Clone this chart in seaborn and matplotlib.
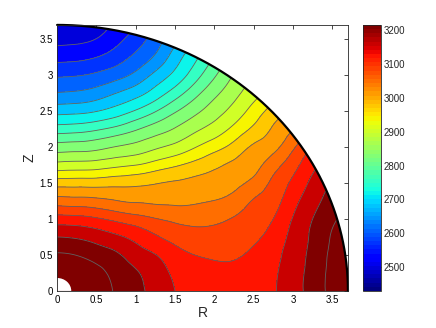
import numpy as np
import matplotlib
matplotlib.use("Agg")
import matplotlib.pyplot as plt
import matplotlib.tri as mtri
from matplotlib.colors import Normalize
from matplotlib.cm import ScalarMappable
from matplotlib.patches import Wedge
import seaborn as sns

# ==================== DATA ====================

# sample grid: R positions along each row, one row per Z value
grid_r = [0.0, 0.25, 0.5, 0.75, 1.0, 1.25, 1.5, 1.75, 2.0, 2.25, 2.5, 2.75, 3.0, 3.25, 3.5]
row_z = [0.0, 0.25, 0.5, 0.75, 1.0, 1.25, 1.5, 1.75, 2.0, 2.25, 2.5, 2.75, 3.0, 3.25, 3.5]

# temperature read along each row (only the points inside the sphere)
temp_z000 = [3226, 3220, 3202, 3173, 3150, 3127, 3103, 3092, 3084, 3081, 3084, 3099, 3125, 3155, 3189]
temp_z025 = [3215, 3209, 3191, 3166, 3144, 3121, 3097, 3085, 3077, 3075, 3081, 3097, 3124, 3154, 3188]
temp_z050 = [3183, 3177, 3162, 3146, 3122, 3104, 3080, 3065, 3059, 3060, 3072, 3091, 3120, 3151, 3185]
temp_z075 = [3140, 3136, 3125, 3110, 3092, 3070, 3052, 3042, 3041, 3046, 3058, 3080, 3114, 3147, 3181]
temp_z100 = [3082, 3079, 3070, 3056, 3043, 3030, 3020, 3016, 3020, 3031, 3045, 3065, 3105, 3140, 3172]
temp_z125 = [3009, 3006, 3002, 2993, 2987, 2984, 2983, 2986, 2992, 3005, 3031, 3051, 3090, 3126]
temp_z150 = [2936, 2937, 2937, 2941, 2944, 2951, 2957, 2963, 2970, 2981, 3002, 3037, 3073, 3112]
temp_z175 = [2854, 2857, 2860, 2870, 2879, 2895, 2911, 2928, 2945, 2961, 2978, 3012, 3051]
temp_z200 = [2784, 2787, 2793, 2806, 2817, 2835, 2852, 2877, 2902, 2929, 2959, 2980, 3022]
temp_z225 = [2710, 2714, 2724, 2740, 2762, 2785, 2807, 2833, 2857, 2889, 2924, 2958]
temp_z250 = [2641, 2644, 2653, 2671, 2696, 2727, 2762, 2794, 2824, 2855, 2894]
temp_z275 = [2582, 2586, 2597, 2617, 2639, 2671, 2710, 2753, 2794, 2829]
temp_z300 = [2537, 2540, 2549, 2565, 2590, 2627, 2665, 2712, 2761]
temp_z325 = [2492, 2495, 2505, 2524, 2551, 2586, 2635]
temp_z350 = [2455, 2459, 2468, 2493, 2523]
temp_rows = [temp_z000, temp_z025, temp_z050, temp_z075, temp_z100,
             temp_z125, temp_z150, temp_z175, temp_z200, temp_z225,
             temp_z250, temp_z275, temp_z300, temp_z325, temp_z350]

# temperature on the outer surface, by elevation angle (degrees)
outer_radius = 3.7
inner_radius = 0.18
arc_angle = [0, 5, 10, 15, 20, 25, 30, 35, 40, 45, 50, 55, 60, 65, 70, 75, 80, 85, 90]
arc_temp = [3204, 3198, 3191, 3181, 3155, 3122, 3077, 3011, 2957, 2897,
            2839, 2781, 2707, 2636, 2565, 2510, 2467, 2446, 2430]

# contour levels and colour range
levels = [2467, 2505, 2542, 2580, 2617, 2654, 2692, 2729, 2766, 2804,
          2841, 2879, 2916, 2953, 2991, 3028, 3065, 3103, 3140, 3178]
t_min, t_max = 2430, 3215

cbar_ticks = [2500, 2600, 2700, 2800, 2900, 3000, 3100, 3200]
axis_ticks = [0, 0.5, 1, 1.5, 2, 2.5, 3, 3.5]
axis_tick_labels = ['0', '0.5', '1', '1.5', '2', '2.5', '3', '3.5']

# ==================== MESH ====================

pts_r, pts_z, pts_t = [], [], []
for z, row in zip(row_z, temp_rows):
    for r_val, t in zip(grid_r, row):
        pts_r.append(r_val)
        pts_z.append(z)
        pts_t.append(t)

ang = np.deg2rad(arc_angle)
pts_r += list(outer_radius * np.cos(ang))
pts_z += list(outer_radius * np.sin(ang))
pts_t += arc_temp

tri = mtri.Triangulation(np.array(pts_r), np.array(pts_z))
tri_fine, t_fine = mtri.UniformTriRefiner(tri).refine_field(
    np.array(pts_t, dtype=float), subdiv=3)

# ==================== PLOT ====================

sns.set_style("white")
plt.rcParams['font.family'] = ['Liberation Sans', 'DejaVu Sans']

cmap = matplotlib.colormaps['jet'].resampled(64)
norm = Normalize(vmin=t_min, vmax=t_max)

bounds = [2300] + levels + [3300]
# each band is painted a little above its upper contour value (MATLAB look)
band_colors = [cmap(norm(min(up + 25, t_max))) for up in bounds[1:]]

fig = plt.figure(figsize=(4.36, 3.28), dpi=100)
ax = fig.add_axes([0.131, 0.113, 0.667, 0.811])

ax.tricontourf(tri_fine, t_fine, levels=bounds, colors=band_colors)
ax.tricontour(tri_fine, t_fine, levels=levels, colors='0.38', linewidths=0.6)

# hole at the centre and outer boundary of the domain
ax.add_patch(Wedge((0, 0), inner_radius, 0, 90, facecolor='white',
                   edgecolor='none', zorder=3))
theta = np.linspace(0, np.pi / 2, 300)
ax.plot(outer_radius * np.cos(theta), outer_radius * np.sin(theta),
        color='black', linewidth=1.6, clip_on=False, zorder=4)

ax.set_xlim(0, 3.7)
ax.set_ylim(0, 3.7)
ax.set_xticks(axis_ticks)
ax.set_xticklabels(axis_tick_labels)
ax.set_yticks(axis_ticks)
ax.set_yticklabels(axis_tick_labels)
ax.tick_params(direction='in', length=3, width=0.5, labelsize=7,
               top=True, right=True, pad=3, colors='black')
for s in ax.spines.values():
    s.set_linewidth(0.6)
    s.set_color('0.15')
    s.set_zorder(5)
ax.set_xlabel('R', fontsize=10, labelpad=1)
ax.set_ylabel('Z', fontsize=10, labelpad=2)

# colour bar
cax = fig.add_axes([0.833, 0.113, 0.041, 0.811])
sm = ScalarMappable(norm=norm, cmap=cmap)
cb = fig.colorbar(sm, cax=cax, ticks=cbar_ticks)
cb.ax.tick_params(direction='in', length=3, width=0.5, labelsize=7, pad=2)
cb.outline.set_linewidth(0.6)
cb.outline.set_edgecolor('0.15')

fig.savefig('out.png', dpi=100, facecolor='white')
